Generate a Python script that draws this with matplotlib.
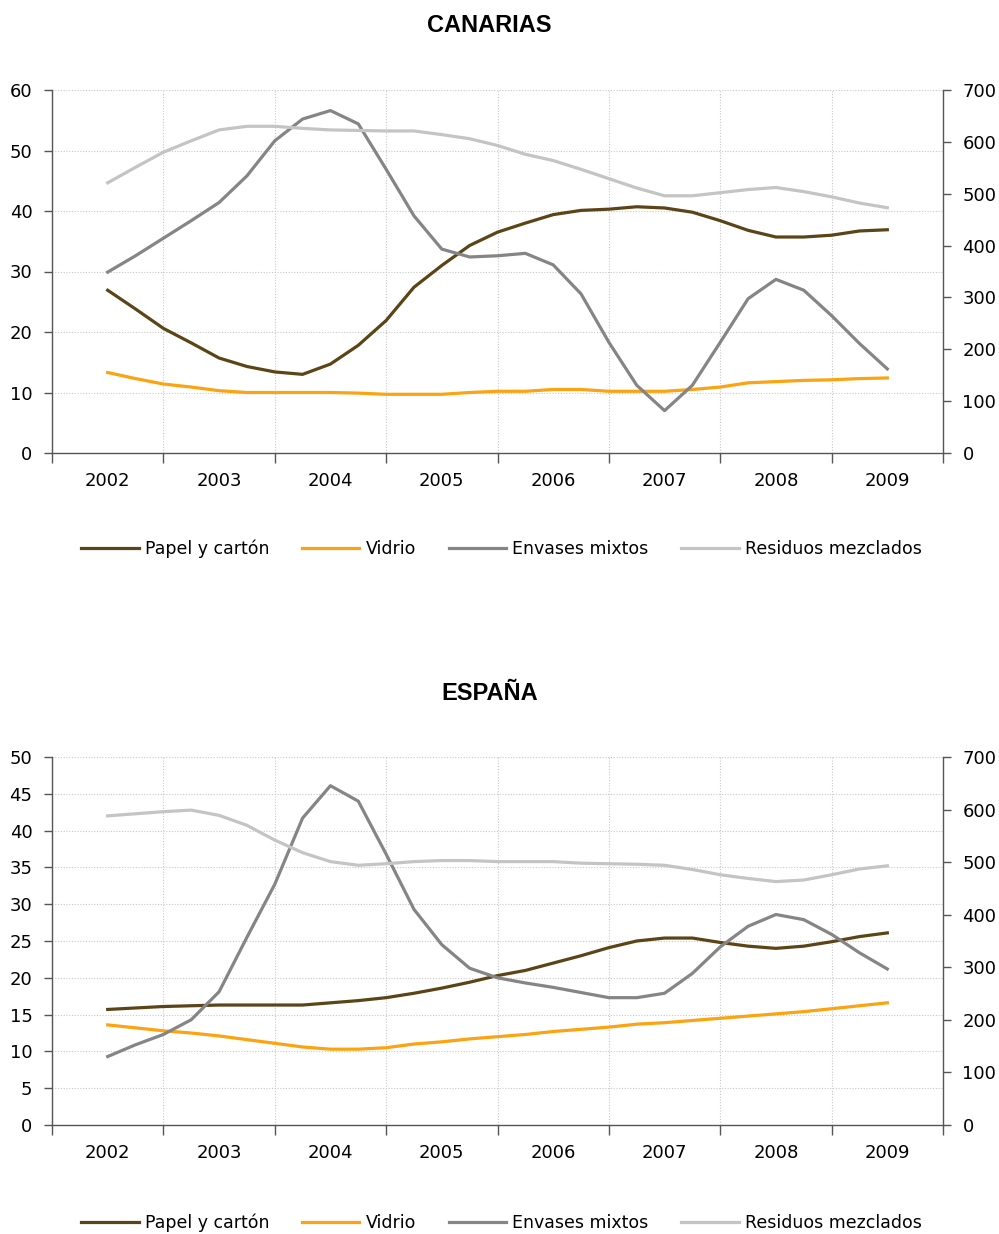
import numpy as np
import matplotlib
matplotlib.use('Agg')
import matplotlib.pyplot as plt

# quarterly readings, 2002 .. 2009
t = np.arange(2002, 2009.001, 0.25)
years = ['2002', '2003', '2004', '2005', '2006', '2007', '2008', '2009']
labels = ['Papel y cartón', 'Vidrio', 'Envases mixtos', 'Residuos mezclados']
colors = ['#5b4415', '#fca311', '#858585', '#c4c4c4']

# CANARIAS (left axis except residuos -> right axis)
can_papel = [26.9, 23.8, 20.6, 18.2, 15.7, 14.3, 13.4, 13.0, 14.7, 17.8, 21.9, 27.4, 31.0, 34.3, 36.5,
             38.0, 39.4, 40.1, 40.3, 40.7, 40.5, 39.8, 38.4, 36.8, 35.7, 35.7, 36.0, 36.7, 36.9]
can_vidrio = [13.3, 12.3, 11.4, 10.9, 10.3, 10.0, 10.0, 10.0, 10.0, 9.9, 9.7, 9.7, 9.7, 10.0, 10.2,
              10.2, 10.5, 10.5, 10.2, 10.2, 10.2, 10.5, 10.9, 11.6, 11.8, 12.0, 12.1, 12.3, 12.4]
can_envases = [29.9, 32.6, 35.5, 38.4, 41.4, 45.8, 51.6, 55.2, 56.6, 54.4, 46.9, 39.2, 33.7, 32.4, 32.6,
               33.0, 31.1, 26.3, 18.3, 11.2, 7.0, 11.2, 18.3, 25.5, 28.7, 26.9, 22.7, 18.1, 13.9]
can_residuos = [521, 551, 580, 602, 623, 630, 630, 626, 623, 622, 621, 621, 614, 606, 593,
                576, 564, 547, 529, 511, 496, 496, 502, 508, 512, 504, 494, 482, 473]

# ESPAÑA
esp_papel = [15.7, 15.9, 16.1, 16.2, 16.3, 16.3, 16.3, 16.3, 16.6, 16.9, 17.3, 17.9, 18.6, 19.4, 20.3,
             21.0, 22.0, 23.0, 24.1, 25.0, 25.4, 25.4, 24.8, 24.3, 24.0, 24.3, 24.9, 25.6, 26.1]
esp_vidrio = [13.6, 13.2, 12.8, 12.5, 12.1, 11.6, 11.1, 10.6, 10.3, 10.3, 10.5, 11.0, 11.3, 11.7, 12.0,
              12.3, 12.7, 13.0, 13.3, 13.7, 13.9, 14.2, 14.5, 14.8, 15.1, 15.4, 15.8, 16.2, 16.6]
esp_envases = [9.3, 10.9, 12.3, 14.3, 18.1, 25.5, 32.7, 41.7, 46.1, 44.0, 36.8, 29.3, 24.5, 21.3, 20.0,
               19.3, 18.7, 18.0, 17.3, 17.3, 17.9, 20.6, 24.2, 27.0, 28.6, 27.9, 25.9, 23.4, 21.2]
esp_residuos = [588, 592, 596, 599, 589, 570, 542, 518, 501, 494, 497, 501, 503, 503, 501,
                501, 501, 498, 497, 496, 494, 486, 476, 469, 463, 466, 476, 487, 493]

W, H = 999, 1234
fig = plt.figure(figsize=(W / 100, H / 100), dpi=100)
plt.rcParams['font.family'] = ['DejaVu Sans']

axis_col = '#555555'


def panel(rect, title, title_y, left_max, left_step, series, legend_y):
    ax = fig.add_axes(rect)
    ax2 = ax.twinx()
    lines = []
    for vals, col in zip(series[:3], colors[:3]):
        ln, = ax.plot(t, vals, color=col, lw=2.3, solid_joinstyle='round')
        lines.append(ln)
    ln, = ax2.plot(t, series[3], color=colors[3], lw=2.3, solid_joinstyle='round')
    lines.append(ln)

    ax.set_xlim(2001.5, 2009.5)
    ax.set_ylim(0, left_max)
    ax2.set_ylim(0, 700)
    ax.set_yticks(np.arange(0, left_max + 0.1, left_step))
    ax2.set_yticks(np.arange(0, 701, 100))
    ax.set_xticks(np.arange(2001.5, 2009.6, 1))
    ax.set_xticklabels([])
    ax.set_xticks(np.arange(2002, 2009.1, 1), minor=True)
    ax.set_xticklabels(years, minor=True)

    ax.grid(True, which='major', color='#c8c8c8', ls=(0, (1, 1.5)), lw=0.8)
    ax.set_axisbelow(True)
    for a in (ax, ax2):
        a.spines['top'].set_visible(False)
        for s in ('left', 'right', 'bottom'):
            a.spines[s].set_color(axis_col)
            a.spines[s].set_linewidth(1.0)
    ax.spines['right'].set_visible(False)
    ax2.spines['left'].set_visible(False)
    ax2.spines['bottom'].set_visible(False)
    ax.tick_params(axis='y', which='major', direction='out', length=6, width=1, color=axis_col,
                   labelsize=13, pad=8)
    ax2.tick_params(axis='y', direction='out', length=6, width=1, color=axis_col, labelsize=13, pad=8)
    ax.tick_params(axis='x', which='major', direction='out', length=7, width=1, color=axis_col)
    ax.tick_params(axis='x', which='minor', length=0, labelsize=13, pad=14)

    fig.text(0.49, title_y, title, ha='center', va='center', fontsize=17, fontweight='bold',
             family='Liberation Sans')
    fig.legend(lines, labels, loc='center', bbox_to_anchor=(0.502, legend_y), ncol=4, frameon=False,
               fontsize=12.5, handlelength=3.3, handletextpad=0.35, columnspacing=1.9)


panel([52 / W, 1 - 453 / H, 891 / W, 363 / H], 'CANARIAS', 1 - 25 / H, 60, 10,
      [can_papel, can_vidrio, can_envases, can_residuos], 1 - 549 / H)
panel([52 / W, 1 - 1125 / H, 891 / W, 368 / H], 'ESPAÑA', 1 - 693 / H, 50, 5,
      [esp_papel, esp_vidrio, esp_envases, esp_residuos], 1 - 1223 / H)

fig.savefig('out.png', dpi=100)
